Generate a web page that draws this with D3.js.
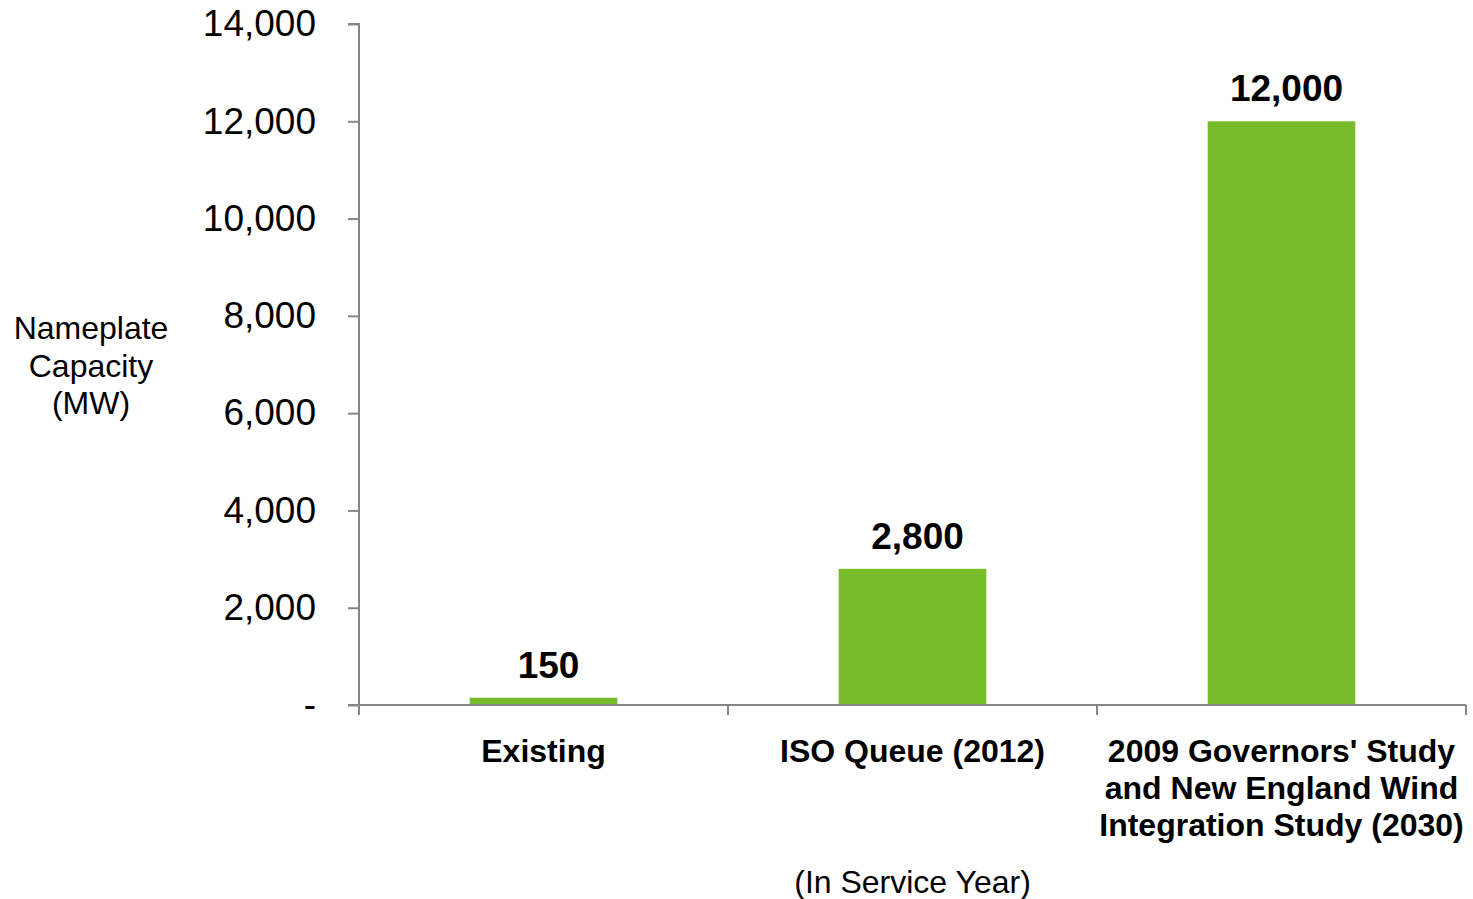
<!DOCTYPE html>
<html>
<head>
<meta charset="utf-8">
<script src="https://cdn.jsdelivr.net/npm/d3@7"></script>
<style>
  body { margin: 0; background: #fff; }
  text { font-family: "Liberation Sans", Arial, sans-serif; fill: #000; }
</style>
</head>
<body>
<div id="chart"></div>
<script>
const categories = [
  ["Existing"],
  ["ISO Queue (2012)"],
  ["2009 Governors' Study", "and New England Wind", "Integration Study (2030)"]
];
const values = [150, 2800, 12000];
const yTicks = [0, 2000, 4000, 6000, 8000, 10000, 12000, 14000];
const yTitle = ["Nameplate", "Capacity", "(MW)"];
const xTitle = "(In Service Year)";

const width = 1473, height = 899;
const plotLeft = 359, plotRight = 1466, plotTop = 24, plotBottom = 705;

const svg = d3.select('#chart').append('svg')
  .attr('width', width)
  .attr('height', height);

const x = d3.scaleBand()
  .domain(d3.range(values.length))
  .range([plotLeft, plotRight])
  .paddingInner(0.6)
  .paddingOuter(0.3);

const y = d3.scaleLinear()
  .domain([0, 14000])
  .range([plotBottom, plotTop]);

const band = (plotRight - plotLeft) / values.length;
const fmt = d3.format(',');

// bars
svg.selectAll('.bar').data(values).enter()
  .append('rect')
  .classed('bar', true)
  .attr('x', (d, i) => x(i))
  .attr('y', d => y(d))
  .attr('width', x.bandwidth())
  .attr('height', d => plotBottom - y(d))
  .style('fill', '#78BB2B');

// y axis
const yAxis = svg.append('g')
  .attr('transform', `translate(${plotLeft},0)`)
  .call(d3.axisLeft(y).tickValues(yTicks).tickSize(11).tickPadding(32)
    .tickFormat(d => d === 0 ? '-' : fmt(d)));
yAxis.select('.domain').attr('stroke', '#868686').attr('stroke-width', 2)
  .attr('d', `M-11,${plotTop}H0V${plotBottom}`);
yAxis.selectAll('.tick line').attr('stroke', '#868686').attr('stroke-width', 2);
yAxis.selectAll('.tick text')
  .style('font-size', '37px')
  .style('font-family', '"Liberation Sans", Arial, sans-serif')
  .attr('fill', '#000');

// x axis line and tick marks at band edges
svg.append('line')
  .attr('x1', plotLeft - 11).attr('x2', plotRight)
  .attr('y1', plotBottom).attr('y2', plotBottom)
  .attr('stroke', '#868686').attr('stroke-width', 2);
svg.selectAll('.xtick').data(d3.range(values.length + 1)).enter()
  .append('line')
  .attr('x1', i => plotLeft + i * band).attr('x2', i => plotLeft + i * band)
  .attr('y1', plotBottom).attr('y2', plotBottom + 10)
  .attr('stroke', '#868686').attr('stroke-width', 2);

// value labels
svg.selectAll('.val').data(values).enter()
  .append('text')
  .attr('x', (d, i) => x(i) + x.bandwidth() / 2 + 5)
  .attr('y', d => y(d) - 20)
  .attr('text-anchor', 'middle')
  .style('font-size', '37px')
  .style('font-weight', 'bold')
  .text(d => fmt(d));

// category labels
categories.forEach((lines, i) => {
  const t = svg.append('text')
    .attr('x', x(i) + x.bandwidth() / 2)
    .attr('y', 762)
    .attr('text-anchor', 'middle')
    .style('font-size', '32px')
    .style('font-weight', 'bold');
  lines.forEach((l, j) => {
    t.append('tspan')
      .attr('x', x(i) + x.bandwidth() / 2)
      .attr('dy', j === 0 ? 0 : 37)
      .text(l);
  });
});

// x title
svg.append('text')
  .attr('x', (plotLeft + plotRight) / 2)
  .attr('y', 893)
  .attr('text-anchor', 'middle')
  .style('font-size', '32px')
  .text(xTitle);

// y title
const yt = svg.append('text')
  .attr('x', 91)
  .attr('y', 339)
  .attr('text-anchor', 'middle')
  .style('font-size', '32px');
yTitle.forEach((l, j) => {
  yt.append('tspan').attr('x', 91).attr('dy', j === 0 ? 0 : 37.5).text(l);
});
</script>
</body>
</html>
